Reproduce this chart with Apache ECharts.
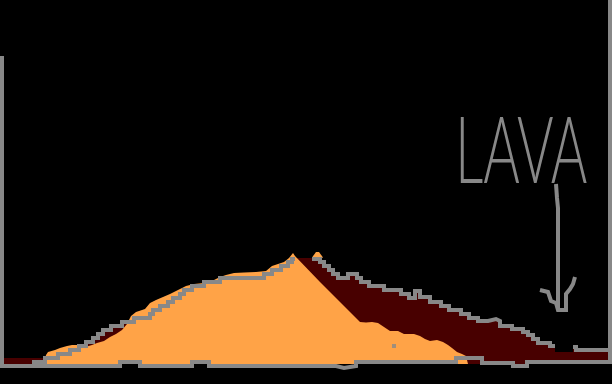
<!DOCTYPE html>
<html><head><meta charset="utf-8">
<script src="https://cdn.jsdelivr.net/npm/echarts@6/dist/echarts.min.js"></script>
<style>html,body{margin:0;padding:0;background:#000;}#c{width:612px;height:384px;}</style>
</head><body><div id="c"></div>
<script>
// Values are measured in picture depth (0 = top, 384 = bottom) along x (0..612)
const groundX = [0, 120, 140, 192, 209, 336, 344, 356, 456, 482, 513, 527, 612];
const groundY = [366, 362, 366, 362, 366, 368, 366, 362, 358, 363, 366, 362, 362];

const rimLX = [32, 45, 58, 70, 79, 86, 93, 98, 103, 111, 122, 134, 150, 153, 160, 168, 173, 180, 184, 192, 204, 220, 264, 272, 281, 288, 292, 295];
const rimLY = [362, 358, 354, 350, 346, 342, 338, 334, 330, 326, 322, 318, 314, 310, 306, 302, 298, 294, 290, 286, 282, 278, 274, 270, 266, 262, 259, 259];

const rimRX = [312, 320, 324, 329, 333, 338, 348, 357, 361, 369, 384, 401, 409, 415, 420, 430, 441, 449, 461, 469, 478, 488, 496, 500, 512, 523, 528, 533, 538, 550, 555];
const rimRY = [259, 262, 266, 270, 274, 278, 274, 278, 282, 286, 290, 294, 298, 291, 297, 302, 306, 310, 314, 318, 321, 319, 321, 326, 329, 332, 335, 339, 343, 346, 346];

const rimEX = [573, 576, 610];
const rimEY = [347, 350, 350];

const maroonX = [4, 32, 45, 58, 70, 79, 86, 93, 98, 103, 111, 122, 134, 150, 153, 160, 168, 173, 180, 184, 192, 204, 220, 264, 272, 281, 288, 292, 312, 320, 324, 329, 333, 338, 348, 357, 361, 369, 384, 401, 409, 415, 420, 430, 441, 449, 461, 469, 478, 488, 496, 500, 512, 523, 528, 533, 538, 550, 555, 573, 576, 608];
const maroonY = [358, 358, 357, 353, 349, 345, 341, 337, 333, 329, 325, 321, 317, 313, 309, 305, 301, 297, 293, 289, 285, 281, 277, 273, 269, 265, 261, 258, 258, 261, 265, 269, 273, 277, 273, 277, 281, 285, 289, 293, 297, 290, 296, 301, 305, 309, 313, 317, 320, 318, 320, 325, 328, 331, 334, 338, 342, 345, 352, 347, 350, 350];

const orangeX = [44, 46, 48, 55, 60, 67, 72, 77, 82, 87, 92, 97, 104, 110, 116, 122, 127, 131, 136, 145, 150, 156, 163, 170, 178, 186, 194, 204, 212, 220, 226, 234, 244, 256, 266, 272, 278, 284, 289, 293, 295, 320, 340, 360, 366, 372, 378, 384, 390, 398, 404, 414, 420, 425, 430, 437, 443, 448, 452, 457, 462, 466, 468];
const orangeY = [364, 355, 352, 350, 348, 346, 345, 345, 346.5, 346.5, 345, 343, 341, 337, 334, 330, 324, 316, 312, 309, 303, 300, 297, 294, 290, 286, 284, 283, 281, 277, 275, 273, 272.5, 272, 271, 266, 264, 262, 258, 253, 256, 282, 302, 322, 322.5, 322, 323, 327, 331, 331, 334, 334, 336, 339, 341, 340, 342, 345, 348, 352, 354, 356, 364];

const capX = [312, 316, 319, 323];
const capY = [257.5, 252, 252, 257.5];

const dotX = [394];
const dotY = [346];

const shaftX = [556, 557, 558, 558];
const shaftY = [184, 198, 208, 310];
const headX = [540, 548, 551, 556, 558, 566, 566, 570, 573, 575];
const headY = [290, 292, 301, 303, 310, 310, 294, 289, 284, 277];

const leftBorderX = [2, 2];
const leftBorderY = [56, 367];
const rightBorderX = [610, 610];
const rightBorderY = [0, 362];

const labelText = 'LAVA';

function pts(xs, ys) { return xs.map((x, i) => [x, ys[i]]); }
const GRAY = '#888888', ORANGE = '#FFA347', MAROON = '#480000';

function grayLine(xs, ys, step, z) {
  return {
    type: 'line', data: pts(xs, ys), step: step || false, symbol: 'none', clip: false, z: z || 5,
    lineStyle: { color: GRAY, width: 4, cap: 'butt', join: 'miter' }, silent: true
  };
}

const chart = echarts.init(document.getElementById('c'), null, { renderer: 'canvas' });
chart.setOption({
  backgroundColor: '#000',
  animation: false,
  grid: { left: 0, right: 0, top: 0, bottom: 0 },
  xAxis: { type: 'value', min: 0, max: 612, show: false },
  yAxis: { type: 'value', min: 0, max: 384, inverse: true, show: false },
  series: [
    { type: 'line', step: 'end', data: pts(maroonX, maroonY), symbol: 'none', z: 1,
      lineStyle: { width: 0 }, areaStyle: { color: MAROON, opacity: 1, origin: 364 } },
    { type: 'line', data: pts(orangeX, orangeY), symbol: 'none', z: 2,
      lineStyle: { width: 0 }, areaStyle: { color: ORANGE, opacity: 1, origin: 364 } },
    { type: 'line', data: pts(capX, capY), symbol: 'none', z: 2,
      lineStyle: { width: 0 }, areaStyle: { color: ORANGE, opacity: 1, origin: 259 } },
    grayLine(groundX, groundY, 'end'),
    grayLine(rimLX, rimLY, 'end'),
    grayLine(rimRX, rimRY, 'end'),
    grayLine(rimEX, rimEY, 'end'),
    grayLine(leftBorderX, leftBorderY),
    grayLine(rightBorderX, rightBorderY),
    grayLine(shaftX, shaftY),
    grayLine(headX, headY),
    { type: 'scatter', data: pts(dotX, dotY), symbol: 'rect', symbolSize: 4, z: 5,
      itemStyle: { color: GRAY } }
  ],
  graphic: [{
    type: 'text', x: 455, y: 106, scaleX: 0.62, scaleY: 1.04, z: 10,
    style: { text: labelText, fill: GRAY, font: '300 90px Lato', align: 'left', verticalAlign: 'top' }
  }]
});
</script></body></html>
